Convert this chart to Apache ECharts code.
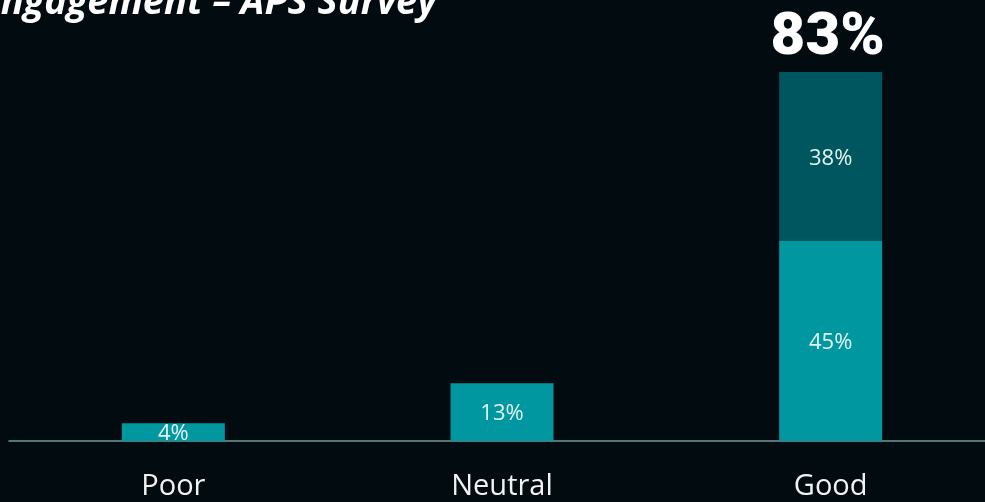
<!DOCTYPE html>
<html>
<head>
<meta charset="utf-8">
<script src="https://cdn.jsdelivr.net/npm/echarts@6/dist/echarts.min.js"></script>
<style>
html,body{margin:0;padding:0;background:#020b0f;}
#c{width:985px;height:502px;}
</style>
</head>
<body>
<div id="c"></div>
<script>
const categories = ['Poor', 'Neutral', 'Good'];
const baseValues = [4, 13, 45];
const upperValues = ['-', '-', 38];
const titleText = 'Engagement – APS Survey';

const chart = echarts.init(document.getElementById('c'));
chart.setOption({
  backgroundColor: '#020b0f',
  animation: false,
  grid: { left: 9, right: -10, top: 72, bottom: 61, containLabel: false, outerBoundsMode: 'none' },
  graphic: [{
    type: 'text',
    x: 437, y: 22,
    style: {
      text: titleText,
      fill: '#ffffff',
      font: 'italic bold 38px "Open Sans", "Noto Sans", sans-serif',
      textAlign: 'right',
      textVerticalAlign: 'bottom'
    }
  }],
  xAxis: {
    type: 'category',
    data: categories,
    axisLine: { show: true, lineStyle: { color: '#6f9a9d', width: 1.5 } },
    axisTick: { show: false },
    axisLabel: { color: '#f2f2f2', fontSize: 29, fontFamily: '"Open Sans", sans-serif', margin: 31 },
    splitLine: { show: false }
  },
  yAxis: {
    type: 'value', min: 0, max: 83, show: false, splitLine: { show: false }
  },
  series: [
    {
      name: 'base', type: 'bar', stack: 's', data: baseValues, barWidth: 103,
      itemStyle: { color: '#0097a1' },
      label: { show: true, position: 'inside', offset: [0, 2], color: '#e3f3f3', fontSize: 22,
        fontFamily: '"Open Sans", sans-serif', formatter: p => p.value + '%' }
    },
    {
      name: 'upper', type: 'bar', stack: 's', data: upperValues, barWidth: 103,
      itemStyle: { color: '#00565e' },
      label: { show: true, position: 'inside', offset: [0, 2], color: '#e3f3f3', fontSize: 22,
        fontFamily: '"Open Sans", sans-serif', formatter: p => p.value + '%' }
    },
    {
      name: 'total', type: 'bar', stack: 's', data: upperValues.map(v => v === '-' ? '-' : 0), barWidth: 103,
      itemStyle: { color: 'transparent' },
      label: { show: true, position: 'top', distance: 3, offset: [-3, 0], color: '#ffffff', fontSize: 60,
        fontWeight: 900, fontFamily: 'Roboto, "Open Sans", sans-serif',
        formatter: p => (baseValues[p.dataIndex] + Number(upperValues[p.dataIndex])) + '%' }
    }
  ]
});
</script>
</body>
</html>
